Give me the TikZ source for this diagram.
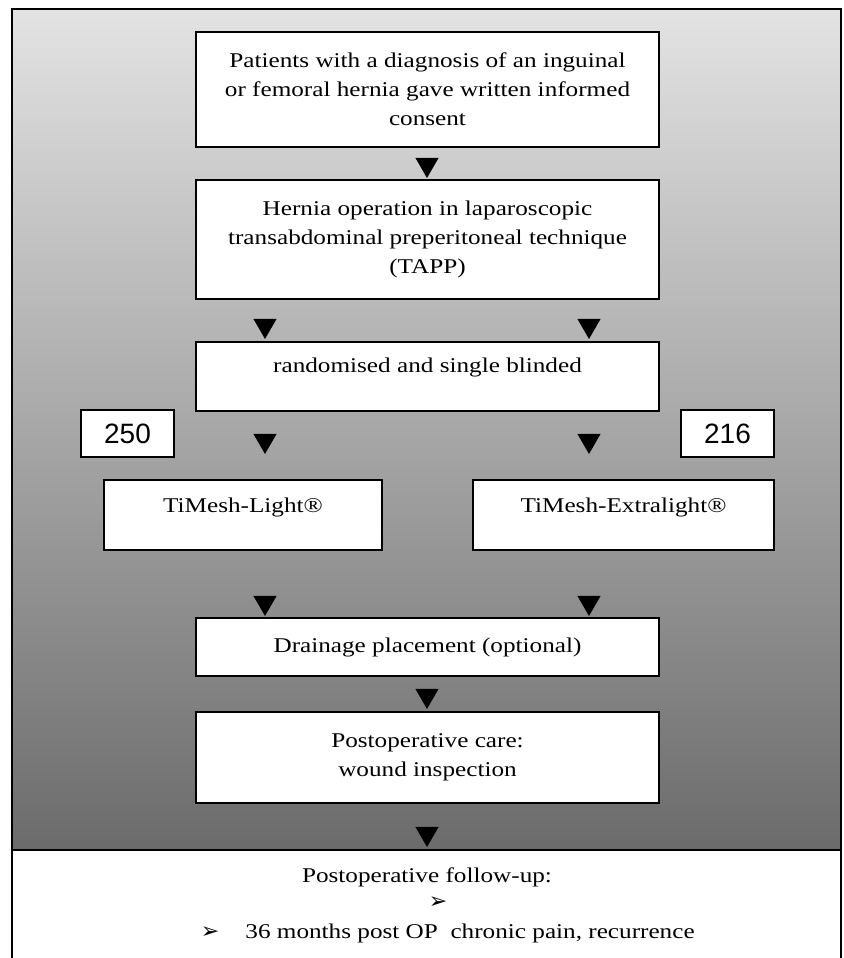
\documentclass[tikz,border=0pt]{standalone}
\usepackage{fontspec}
\setmainfont{Liberation Serif}[FakeStretch=1.2]
\newfontfamily\numfont{Liberation Sans}
\newfontfamily\symfont{DejaVu Sans}
\usetikzlibrary{shapes.geometric}

\begin{document}
\begin{tikzpicture}[x=0.5pt, y=-0.5pt]
\tikzstyle{box}=[draw=black, line width=1pt, fill=white, align=center, inner sep=2pt, font=\fontsize{10.5}{14.5}\selectfont]
\tikzstyle{numbox}=[box, font=\numfont\fontsize{14}{16}\selectfont]
\tikzstyle{tri}=[regular polygon, regular polygon sides=3, shape border rotate=180, fill=black, inner sep=0pt, minimum size=13.5pt]
\tikzstyle{txt}=[inner sep=0pt, font=\fontsize{10.5}{14.5}\selectfont]
\tikzstyle{bullet}=[inner sep=0pt, font=\symfont\fontsize{11}{13}\selectfont]

\useasboundingbox (0,0) rectangle (843,958);
\clip (0,0) rectangle (843,958);
% background
\shade[top color=black!11, bottom color=black!58] (12,9) rectangle (841,850);
\draw[line width=1pt, fill=white] (12,850) rectangle (841,990);
\draw[line width=1pt] (12,9) rectangle (841,850);

% boxes
\node[box, minimum width=231.5pt, minimum height=57.5pt] (pat) at (427.5,89.5)
  {Patients with a diagnosis of an inguinal\\or femoral hernia gave written informed\\consent};
\node[box, minimum width=231.5pt, minimum height=59.5pt] (op) at (427.5,239.5)
  {Hernia operation in laparoscopic\\transabdominal preperitoneal technique\\(TAPP)};
\node[box, minimum width=231.5pt, minimum height=34.5pt, text depth=11pt] (rand) at (427.5,376.5)
  {randomised and single blinded};
\node[numbox, minimum width=46.5pt, minimum height=23.5pt] (n250) at (127.5,433.5) {250};
\node[numbox, minimum width=46.5pt, minimum height=23.5pt] (n216) at (727.5,433.5) {216};
\node[box, minimum width=139pt, minimum height=35pt, text depth=9.3pt] (light) at (243,515)
  {TiMesh-Light®};
\node[box, minimum width=150.5pt, minimum height=35pt, text depth=9.3pt] (xlight) at (623.5,515)
  {TiMesh-Extralight®};
\node[box, minimum width=231.5pt, minimum height=29pt] (drain) at (427.5,647)
  {Drainage placement (optional)};
\node[box, minimum width=231.5pt, minimum height=45.5pt] (care) at (427.5,757.5)
  {Postoperative care:\\wound inspection};

% arrow heads
\node[tri] (t1) at (427,164.5) {};
\node[tri] (t2) at (265,325.5) {};
\node[tri] (t3) at (589,325.5) {};
\node[tri] (t4) at (265,440.5) {};
\node[tri] (t5) at (589,440.5) {};
\node[tri] (t6) at (265,602.5) {};
\node[tri] (t7) at (589,602.5) {};
\node[tri] (t8) at (427,695.5) {};
\node[tri] (t9) at (427,833.5) {};

% follow-up
\node[txt] (follow) at (427,877) {Postoperative follow-up:};
\node[bullet] (b1) at (438,903) {➢};
\node[bullet] (b2) at (210,933) {➢};
\node[txt, anchor=west] (months) at (245,933) {36 months post OP\ \ chronic pain, recurrence};
\end{tikzpicture}
\end{document}
